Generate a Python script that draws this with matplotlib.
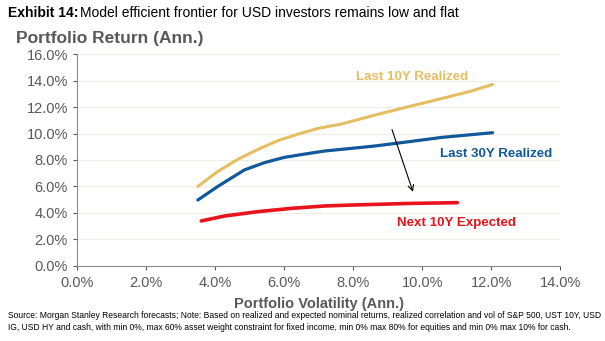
import matplotlib
matplotlib.use("Agg")
import matplotlib.pyplot as plt
import numpy as np
from matplotlib.ticker import FuncFormatter

plt.rcParams["font.family"] = ["Liberation Sans", "DejaVu Sans"]

# efficient frontier points (vol %, return %)
vol_10y = [3.5, 4.07, 4.66, 5.24, 5.82, 6.41, 6.99, 7.67, 8.64, 9.61, 10.58, 11.36, 12.04]
ret_10y = [6.0, 7.12, 8.05, 8.8, 9.46, 9.96, 10.39, 10.72, 11.4, 12.03, 12.65, 13.16, 13.7]

vol_30y = [3.5, 4.07, 4.85, 5.43, 6.01, 6.6, 7.18, 7.96, 8.64, 9.61, 10.58, 12.04]
ret_30y = [4.98, 5.99, 7.25, 7.8, 8.2, 8.45, 8.68, 8.88, 9.06, 9.38, 9.71, 10.06]

vol_next = [3.6, 4.27, 5.24, 6.21, 7.18, 7.96, 8.64, 9.61, 11.02]
ret_next = [3.4, 3.77, 4.1, 4.35, 4.53, 4.6, 4.65, 4.72, 4.78]

labels = ["Last 10Y Realized", "Last 30Y Realized", "Next 10Y Expected"]
colors = ["#E6BE62", "#11599B", "#E8131C"]

x_ticks = np.arange(0, 15, 2)
y_ticks = np.arange(0, 17, 2)

gray = "#595959"
fig = plt.figure(figsize=(6.05, 3.41), dpi=100)
ax = fig.add_axes([0.1273, 0.22, 0.7987, 0.6216])

for xs, ys, c, w in [(vol_10y, ret_10y, colors[0], 2.2),
                     (vol_30y, ret_30y, colors[1], 2.3),
                     (vol_next, ret_next, colors[2], 2.6)]:
    ax.plot(xs, ys, color=c, lw=w, solid_capstyle="round", solid_joinstyle="round")

ax.annotate("", xy=(9.76, 5.4), xytext=(9.1, 10.5),
            arrowprops=dict(arrowstyle="->", color="black", lw=0.8))

ax.text(9.7, 14.3, labels[0], color=colors[0], fontsize=9.6, fontweight="bold",
        ha="center", va="center")
ax.text(10.52, 8.45, labels[1], color=colors[1], fontsize=9.6, fontweight="bold",
        ha="left", va="center")
ax.text(9.27, 3.25, labels[2], color=colors[2], fontsize=9.6, fontweight="bold",
        ha="left", va="center")

ax.set_xlim(0, 14)
ax.set_ylim(0, 16)
ax.set_xticks(x_ticks)
ax.set_yticks(y_ticks)
pct = FuncFormatter(lambda v, p: "%.1f%%" % v)
ax.xaxis.set_major_formatter(pct)
ax.yaxis.set_major_formatter(pct)
ax.tick_params(colors=gray, labelsize=10.5, length=3, width=0.8)
ax.tick_params(axis="x", pad=4)
ax.grid(axis="y", color="#EFEDE8", lw=0.8)
ax.set_axisbelow(True)
for s in ["top", "right"]:
    ax.spines[s].set_visible(False)
for s in ["left", "bottom"]:
    ax.spines[s].set_color("#8C8C8C")
    ax.spines[s].set_linewidth(0.8)

ax.set_xlabel("Portfolio Volatility (Ann.)", color=gray, fontsize=10.5,
              fontweight="bold", labelpad=5)
fig.text(0.026, 0.887, "Portfolio Return (Ann.)", color=gray, fontsize=12.5,
         fontweight="bold", va="center")

fig.text(0.013, 0.962, "Exhibit 14:", fontsize=10, fontweight="bold", va="center")
fig.text(0.133, 0.962, "Model efficient frontier for USD investors remains low and flat",
         fontsize=10, va="center")

fig.text(0.013, 0.057,
         "Source: Morgan Stanley Research forecasts; Note: Based on realized and expected nominal returns, "
         "realized correlation and vol of S&P 500, UST 10Y, USD\n"
         "IG, USD HY and cash, with min 0%, max 60% asset weight constraint for fixed income, "
         "min 0% max 80% for equities and min 0% max 10% for cash.",
         fontsize=6.15, va="center", linespacing=1.35)

fig.savefig("out.png", dpi=100)
